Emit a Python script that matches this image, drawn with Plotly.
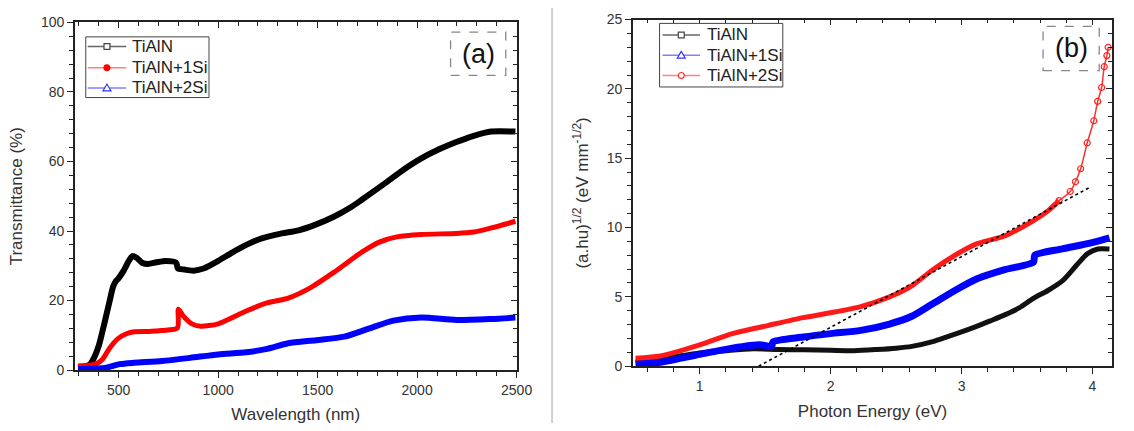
import plotly.graph_objects as go

# ---------------- (a) Transmittance vs wavelength ----------------
wl_tialn = [296, 330, 357, 380, 401, 420, 437, 455, 472, 485, 498, 525, 551, 569, 590, 620, 648,
            690, 736, 789, 797, 830, 877, 930, 1000, 1070, 1141, 1200, 1246, 1320, 1405, 1493,
            1581, 1669, 1722, 1845, 1933, 2021, 2110, 2197, 2285, 2373, 2494]
T_tialn = [0.7, 1.0, 1.7, 4.0, 7.2, 11.5, 15.6, 20.0, 24.0, 25.5, 26.3, 28.6, 31.4, 32.8, 32.3,
           30.8, 30.5, 31.0, 31.4, 30.9, 29.3, 28.9, 28.6, 29.3, 31.4, 33.8, 36.0, 37.5, 38.3,
           39.3, 40.2, 41.9, 44.1, 46.9, 49.0, 54.0, 57.7, 60.9, 63.5, 65.6, 67.4, 68.6, 68.6]

wl_1si = [296, 384, 419, 454, 498, 542, 577, 648, 718, 795, 800, 824, 868, 912, 1000, 1141, 1246,
          1352, 1458, 1581, 1722, 1810, 1898, 2021, 2197, 2285, 2373, 2494]
T_1si = [1.2, 1.7, 3.1, 6.3, 9.1, 10.5, 11.0, 11.1, 11.4, 12.1, 17.5, 15.6, 13.3, 12.6, 13.3,
         17.0, 19.3, 20.7, 23.5, 28.1, 33.9, 36.8, 38.3, 39.0, 39.3, 39.7, 40.9, 42.8]

wl_2si = [296, 437, 505, 577, 718, 859, 1000, 1141, 1246, 1352, 1493, 1634, 1757, 1880, 2021,
          2197, 2373, 2494]
T_2si = [0.3, 0.7, 1.7, 2.1, 2.6, 3.5, 4.5, 5.1, 6.1, 7.7, 8.6, 9.6, 11.9, 14.2, 15.1, 14.4,
         14.7, 15.1]

# ---------------- (b) Tauc plot ----------------
E_tialn = [0.51, 0.75, 1.0, 1.2, 1.41, 1.6, 1.8, 2.0, 2.18, 2.35, 2.5, 2.62, 2.78, 2.9, 3.0,
           3.11, 3.22, 3.33, 3.44, 3.55, 3.66, 3.77, 3.88, 3.96, 4.04, 4.13]
A_tialn = [0.3, 0.6, 0.95, 1.12, 1.25, 1.2, 1.18, 1.15, 1.12, 1.2, 1.3, 1.43, 1.77, 2.15, 2.47,
           2.85, 3.27, 3.7, 4.2, 4.9, 5.46, 6.15, 7.3, 8.1, 8.45, 8.45]

E_1si = [0.51, 0.7, 1.0, 1.25, 1.46, 1.55, 1.56, 1.79, 2.0, 2.23, 2.45, 2.62, 2.78, 2.95, 3.11,
         3.33, 3.55, 3.56, 3.77, 3.99, 4.13]
A_1si = [0.16, 0.28, 0.85, 1.3, 1.54, 1.43, 1.75, 2.1, 2.35, 2.58, 3.04, 3.6, 4.5, 5.46, 6.27,
         6.96, 7.5, 8.0, 8.46, 8.9, 9.26]

E_2si = [0.51, 0.7, 1.0, 1.25, 1.52, 1.79, 2.0, 2.23, 2.45, 2.62, 2.78, 2.95, 3.11, 3.33, 3.55,
         3.66, 3.745, 3.83, 3.87, 3.91, 3.96, 4.01, 4.04, 4.07, 4.09, 4.11, 4.12]
A_2si = [0.58, 0.74, 1.54, 2.35, 2.93, 3.5, 3.85, 4.3, 5.0, 5.8, 6.96, 8.0, 8.8, 9.4, 10.5,
         11.2, 11.94, 12.6, 13.3, 14.24, 16.1, 17.7, 19.1, 20.1, 21.6, 22.4, 23.0]

# linear extrapolation of the absorption edge
E_fit = [1.45, 3.98]
A_fit = [0.0, 12.9]

series_names = ["TiAlN", "TiAlN+1Si", "TiAlN+2Si"]

FONT = "Liberation Sans, Arial, sans-serif"
W, H = 1134, 431
BLACK, RED, BLUE = "#000000", "#ff0000", "#0000ff"


def px(x):
    return x / W


def py(y):
    return 1 - y / H


fig = go.Figure()

SPL = dict(shape="spline", smoothing=0.7)

# panel (a) curves
fig.add_trace(go.Scatter(x=wl_tialn, y=T_tialn, mode="lines", line=dict(color=BLACK, width=6, **SPL),
                         xaxis="x", yaxis="y", showlegend=False, hoverinfo="skip"))
fig.add_trace(go.Scatter(x=wl_1si, y=T_1si, mode="lines", line=dict(color=RED, width=5, **SPL),
                         xaxis="x", yaxis="y", showlegend=False, hoverinfo="skip"))
fig.add_trace(go.Scatter(x=wl_2si, y=T_2si, mode="lines", line=dict(color=BLUE, width=6, **SPL),
                         xaxis="x", yaxis="y", showlegend=False, hoverinfo="skip"))

# panel (b) curves
fig.add_trace(go.Scatter(x=E_tialn, y=A_tialn, mode="lines", line=dict(color="#111111", width=5, **SPL),
                         xaxis="x2", yaxis="y2", showlegend=False, hoverinfo="skip"))
fig.add_trace(go.Scatter(x=E_1si, y=A_1si, mode="lines", line=dict(color=BLUE, width=7, **SPL),
                         xaxis="x2", yaxis="y2", showlegend=False, hoverinfo="skip"))
steep = [i for i, e in enumerate(E_2si) if e >= 3.7]
flat = [i for i, e in enumerate(E_2si) if e <= 3.75]
fig.add_trace(go.Scatter(x=[E_2si[i] for i in flat], y=[A_2si[i] for i in flat], mode="lines",
                         line=dict(color="#ff1a1a", width=5, **SPL),
                         xaxis="x2", yaxis="y2", showlegend=False, hoverinfo="skip"))
fig.add_trace(go.Scatter(x=[E_2si[i] for i in steep], y=[A_2si[i] for i in steep],
                         mode="lines+markers", line=dict(color="#ff3030", width=1.5, **SPL),
                         marker=dict(symbol="circle-open", size=6, color="#ff2020",
                                     line=dict(width=1.2)),
                         xaxis="x2", yaxis="y2", showlegend=False, hoverinfo="skip"))
fig.add_trace(go.Scatter(x=E_fit, y=A_fit, mode="lines", line=dict(color=BLACK, width=1.6, dash="dot"),
                         xaxis="x2", yaxis="y2", showlegend=False, hoverinfo="skip"))

# empty traces so the mirrored (top / right) axes are drawn
for xa, ya in (("x3", "y3"), ("x4", "y4")):
    fig.add_trace(go.Scatter(x=[None], y=[None], mode="lines", xaxis=xa, yaxis=ya,
                             showlegend=False, hoverinfo="skip"))

# panel geometry (pixels)
ax_a = dict(x0=76, x1=524, y0=15, y1=376)
ax_b = dict(x0=642, x1=1128, y0=12, y1=372)


def xdom(p):
    return [px(p["x0"]), px(p["x1"])]


def ydom(p):
    return [py(p["y1"]), py(p["y0"])]


AXC = "#222222"
tickfont = dict(family=FONT, size=14, color="#333333")
titlefont = dict(family=FONT, size=17, color="#333333")

xr_a, yr_a = [280, 2500], [0, 100]
xr_b, yr_b = [0.49, 4.15], [0, 25]

base = dict(showgrid=False, zeroline=False, showline=True, linecolor=AXC, linewidth=1.5,
            tickcolor=AXC, tickwidth=1.3, ticklen=6, tickfont=tickfont)

fig.update_layout(
    width=W, height=H, margin=dict(l=0, r=0, t=0, b=0),
    paper_bgcolor="white", plot_bgcolor="white",
    font=dict(family=FONT, color="#222222"),
    showlegend=False,
    xaxis=dict(base, domain=xdom(ax_a), anchor="y", range=xr_a, dtick=500, tick0=0,
               ticks="outside", minor=dict(dtick=100, ticklen=4, ticks="outside", tickcolor=AXC),
               title=dict(text="Wavelength (nm)", font=titlefont, standoff=12)),
    yaxis=dict(base, domain=ydom(ax_a), anchor="x", range=yr_a, dtick=20,
               ticks="outside", minor=dict(dtick=4, ticklen=4, ticks="outside", tickcolor=AXC),
               title=dict(text="Transmittance (%)", font=titlefont, standoff=14)),
    xaxis3=dict(base, overlaying="x", anchor="y3", side="top", range=xr_a, dtick=500, tick0=0,
                ticks="inside", showticklabels=False,
                minor=dict(dtick=100, ticklen=4, ticks="inside", tickcolor=AXC)),
    yaxis3=dict(base, overlaying="y", anchor="x3", side="right", range=yr_a, dtick=20,
                ticks="inside", showticklabels=False,
                minor=dict(dtick=4, ticklen=4, ticks="inside", tickcolor=AXC)),
    xaxis2=dict(base, domain=xdom(ax_b), anchor="y2", range=xr_b, dtick=1, tick0=0,
                ticks="outside", minor=dict(dtick=0.2, ticklen=4, ticks="outside", tickcolor=AXC),
                title=dict(text="Photon Energy (eV)", font=titlefont, standoff=12)),
    yaxis2=dict(base, domain=ydom(ax_b), anchor="x2", range=yr_b, dtick=5,
                ticks="outside", minor=dict(dtick=1, ticklen=4, ticks="outside", tickcolor=AXC),
                title=dict(text="(a.hu)<sup>1/2</sup> (eV mm<sup>-1/2</sup>)", font=titlefont,
                           standoff=14)),
    xaxis4=dict(base, overlaying="x2", anchor="y4", side="top", range=xr_b, dtick=1, tick0=0,
                ticks="inside", showticklabels=False,
                minor=dict(dtick=0.2, ticklen=4, ticks="inside", tickcolor=AXC)),
    yaxis4=dict(base, overlaying="y2", anchor="x4", side="right", range=yr_b, dtick=5,
                ticks="inside", showticklabels=False,
                minor=dict(dtick=1, ticklen=4, ticks="inside", tickcolor=AXC)),
)


# ---------------- legend boxes (line sample + symbol + name) ----------------
def add_symbol(kind, cx, cy, color, fill):
    r = 3
    if kind == "square":
        fig.add_shape(type="rect", xref="paper", yref="paper", x0=px(cx - r), x1=px(cx + r),
                      y0=py(cy + r), y1=py(cy - r), line=dict(color=color, width=1.2),
                      fillcolor=fill)
    elif kind == "circle":
        fig.add_shape(type="circle", xref="paper", yref="paper", x0=px(cx - r), x1=px(cx + r),
                      y0=py(cy + r), y1=py(cy - r), line=dict(color=color, width=1.2),
                      fillcolor=fill)
    elif kind == "triangle":
        path = "M {:.5f} {:.5f} L {:.5f} {:.5f} L {:.5f} {:.5f} Z".format(
            px(cx), py(cy - r - 1), px(cx - r - 1), py(cy + r), px(cx + r + 1), py(cy + r))
        fig.add_shape(type="path", xref="paper", yref="paper", path=path,
                      line=dict(color=color, width=1.2), fillcolor=fill)


def add_legend(box, rows, entries):
    bx0, by0, bx1, by1, lx0, lx1, tx = box
    fig.add_shape(type="rect", xref="paper", yref="paper", x0=px(bx0), x1=px(bx1),
                  y0=py(by1), y1=py(by0), line=dict(color="#444444", width=1),
                  fillcolor="white", layer="above")
    for ry, (name, lcol, kind, scol, sfill) in zip(rows, entries):
        fig.add_shape(type="line", xref="paper", yref="paper", x0=px(lx0), x1=px(lx1),
                      y0=py(ry), y1=py(ry), line=dict(color=lcol, width=1.5), layer="above")
        add_symbol(kind, (lx0 + lx1) / 2, ry, scol, sfill)
        fig.add_annotation(xref="paper", yref="paper", x=px(tx), y=py(ry), text=name,
                           showarrow=False, xanchor="left", yanchor="middle",
                           font=dict(family=FONT, size=17, color="#222222"))


add_legend((87, 30, 212, 93, 89, 128, 132), (40, 62, 83),
           [(series_names[0], "#666666", "square", "#444444", "white"),
            (series_names[1], "#ff8080", "circle", "#ff0000", "#ff0000"),
            (series_names[2], "#8080ff", "triangle", "#3030ff", "white")])
add_legend((669, 16, 794, 82, 672, 710, 715), (28, 49, 70),
           [(series_names[0], "#666666", "square", "#444444", "white"),
            (series_names[1], "#8080ff", "triangle", "#3030ff", "white"),
            (series_names[2], "#ff8080", "circle", "#ff3030", "white")])

# dashed label boxes and panel letters
boxes = [((457, 25, 513, 70), "(a)"), ((1058, 19, 1115, 65), "(b)")]
for (bx0, by0, bx1, by1), label in boxes:
    fig.add_shape(type="rect", xref="paper", yref="paper",
                  x0=px(bx0), x1=px(bx1), y0=py(by1), y1=py(by0),
                  line=dict(color="#888888", width=1.3, dash="dash"), fillcolor="rgba(0,0,0,0)")
    fig.add_annotation(xref="paper", yref="paper", x=px((bx0 + bx1) / 2), y=py((by0 + by1) / 2),
                       text=label, showarrow=False, font=dict(family=FONT, size=27, color="#111111"),
                       xanchor="center", yanchor="middle")

# thin divider between the two panels
fig.add_shape(type="line", xref="paper", yref="paper", x0=px(560), x1=px(560), y0=0, y1=1,
              line=dict(color="#cfcfcf", width=2))

fig.write_html("out.html")
